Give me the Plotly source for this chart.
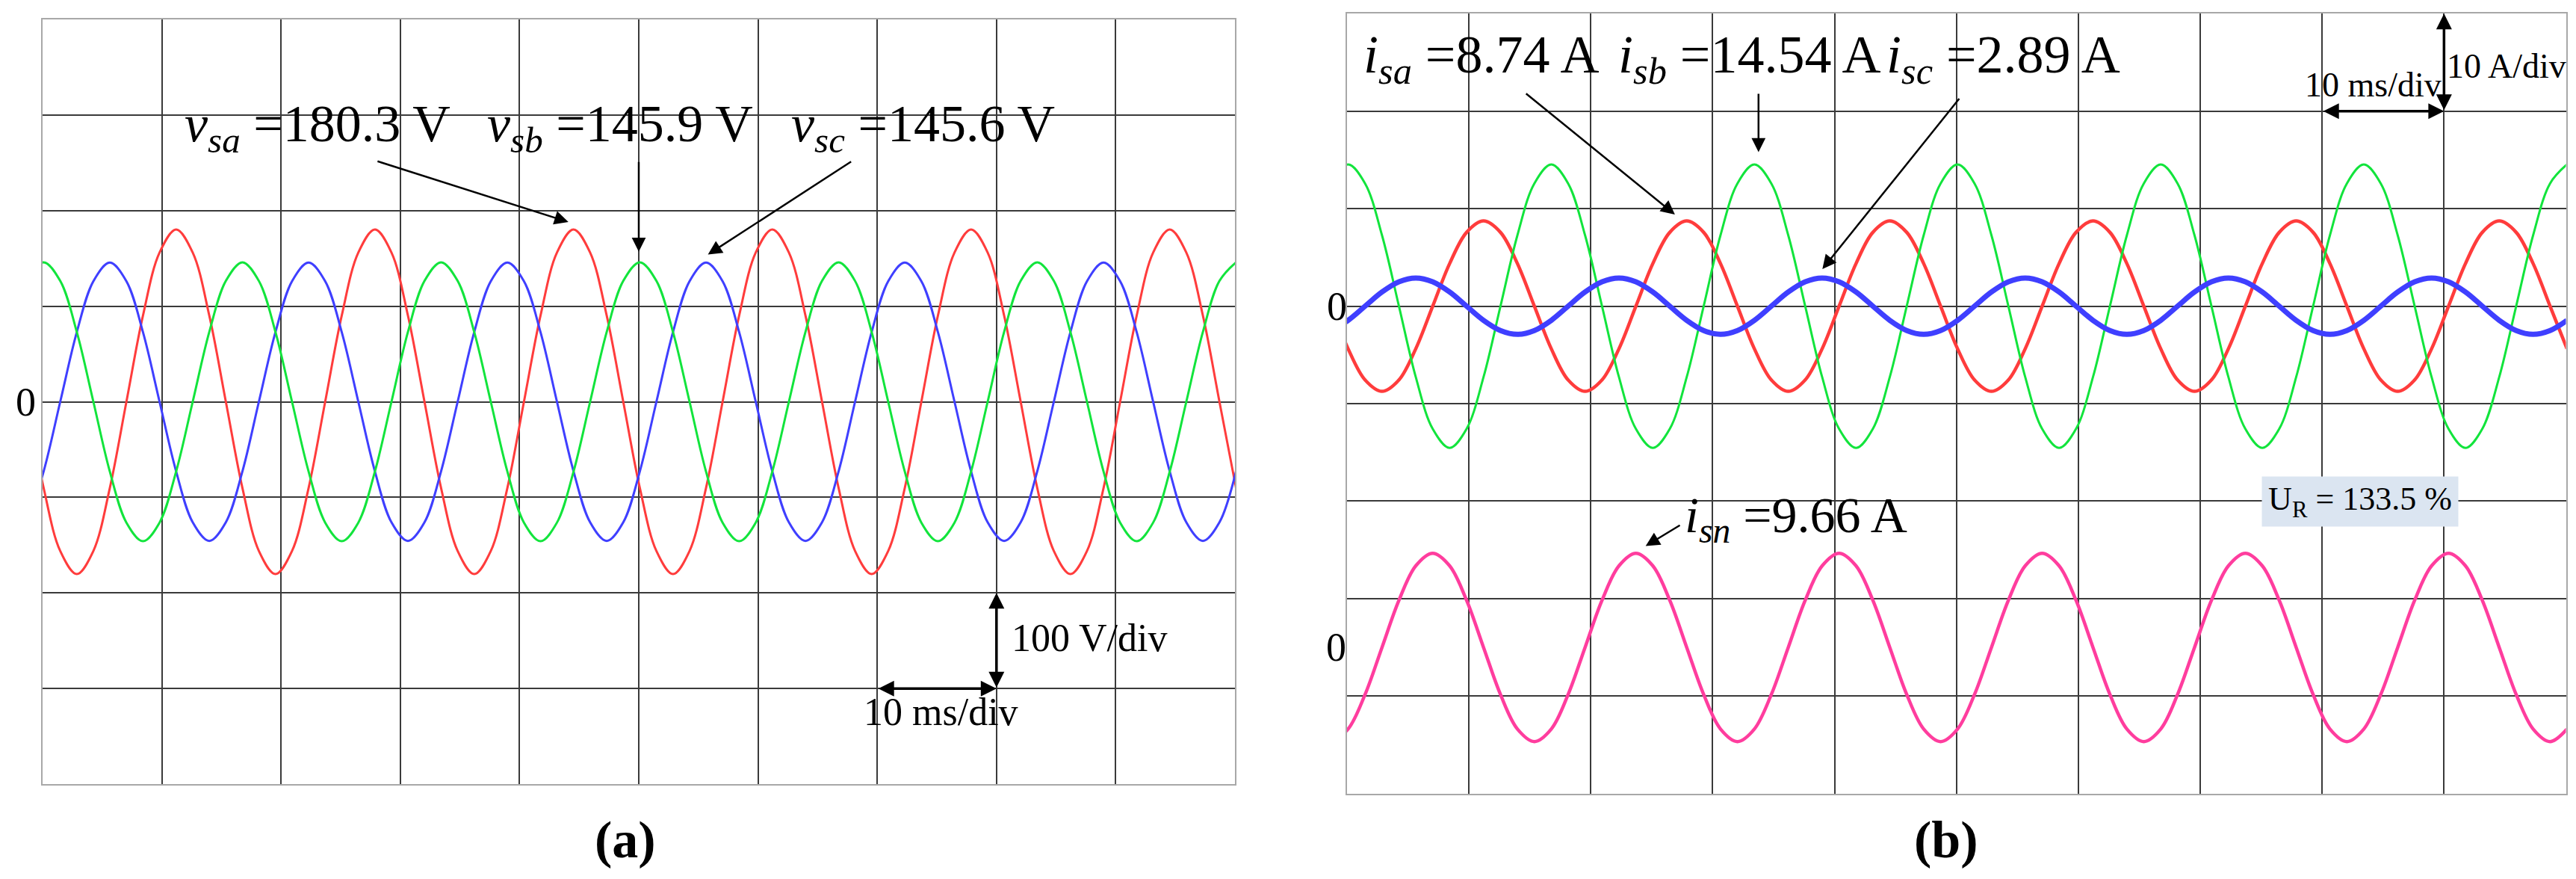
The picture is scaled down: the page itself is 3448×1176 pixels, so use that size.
import plotly.graph_objects as go

W, H = 3448, 1176

# sample times (ms), common to every trace
t_ms = [-1.30, 0.09, 1.48, 2.87, 4.26, 5.64, 7.03, 8.42, 9.81, 11.20, 12.59, 13.98,
        15.37, 16.76, 18.14, 19.53, 20.92, 22.31, 23.70, 25.09, 26.48, 27.87, 29.26, 30.64,
        32.03, 33.42, 34.81, 36.20, 37.59, 38.98, 40.37, 41.76, 43.14, 44.53, 45.92, 47.31,
        48.70, 50.09, 51.48, 52.87, 54.26, 55.64, 57.03, 58.42, 59.81, 61.20, 62.59, 63.98,
        65.37, 66.76, 68.14, 69.53, 70.92, 72.31, 73.70, 75.09, 76.48, 77.87, 79.26, 80.64,
        82.03, 83.42, 84.81, 86.20, 87.59, 88.98, 90.37, 91.76, 93.14, 94.53, 95.92, 97.31,
        98.70, 100.09]

# (a) source voltages (V)
v_sa = [0, -90.2, -156.1, -180.3, -156.1, -90.2, 0, 90.2, 156.1, 180.3, 156.1, 90.2,
        0, -90.2, -156.1, -180.3, -156.1, -90.2, 0, 90.2, 156.1, 180.3, 156.1, 90.2,
        0, -90.2, -156.1, -180.3, -156.1, -90.2, 0, 90.2, 156.1, 180.3, 156.1, 90.2,
        0, -90.2, -156.1, -180.3, -156.1, -90.2, 0, 90.2, 156.1, 180.3, 156.1, 90.2,
        0, -90.2, -156.1, -180.3, -156.1, -90.2, 0, 90.2, 156.1, 180.3, 156.1, 90.2,
        0, -90.2, -156.1, -180.3, -156.1, -90.2, 0, 90.2, 156.1, 180.3, 156.1, 90.2,
        0, -90.2]
v_sb = [126.4, 145.9, 126.4, 73.0, 0, -73.0, -126.4, -145.9, -126.4, -73.0, 0, 73.0,
        126.4, 145.9, 126.4, 73.0, 0, -73.0, -126.4, -145.9, -126.4, -73.0, 0, 73.0,
        126.4, 145.9, 126.4, 73.0, 0, -73.0, -126.4, -145.9, -126.4, -73.0, 0, 73.0,
        126.4, 145.9, 126.4, 73.0, 0, -73.0, -126.4, -145.9, -126.4, -73.0, 0, 73.0,
        126.4, 145.9, 126.4, 73.0, 0, -73.0, -126.4, -145.9, -126.4, -73.0, 0, 73.0,
        126.4, 145.9, 126.4, 73.0, 0, -73.0, -126.4, -145.9, -126.4, -73.0, 0, 73.0,
        126.4, 145.9]
v_sc = [-126.1, -72.8, 0, 72.8, 126.1, 145.6, 126.1, 72.8, 0, -72.8, -126.1, -145.6,
        -126.1, -72.8, 0, 72.8, 126.1, 145.6, 126.1, 72.8, 0, -72.8, -126.1, -145.6,
        -126.1, -72.8, 0, 72.8, 126.1, 145.6, 126.1, 72.8, 0, -72.8, -126.1, -145.6,
        -126.1, -72.8, 0, 72.8, 126.1, 145.6, 126.1, 72.8, 0, -72.8, -126.1, -145.6,
        -126.1, -72.8, 0, 72.8, 126.1, 145.6, 126.1, 72.8, 0, -72.8, -126.1, -145.6,
        -126.1, -72.8, 0, 72.8, 126.1, 145.6, 126.1, 72.8, 0, -72.8, -126.1, -145.6,
        -126.1, -72.8]

# (b) source currents (A)
i_sa = [0, -4.37, -7.57, -8.74, -7.57, -4.37, 0, 4.37, 7.57, 8.74, 7.57, 4.37,
        0, -4.37, -7.57, -8.74, -7.57, -4.37, 0, 4.37, 7.57, 8.74, 7.57, 4.37,
        0, -4.37, -7.57, -8.74, -7.57, -4.37, 0, 4.37, 7.57, 8.74, 7.57, 4.37,
        0, -4.37, -7.57, -8.74, -7.57, -4.37, 0, 4.37, 7.57, 8.74, 7.57, 4.37,
        0, -4.37, -7.57, -8.74, -7.57, -4.37, 0, 4.37, 7.57, 8.74, 7.57, 4.37,
        0, -4.37, -7.57, -8.74, -7.57, -4.37, 0, 4.37, 7.57, 8.74, 7.57, 4.37,
        0, -4.37]
i_sb = [12.59, 14.54, 12.59, 7.27, 0, -7.27, -12.59, -14.54, -12.59, -7.27, 0, 7.27,
        12.59, 14.54, 12.59, 7.27, 0, -7.27, -12.59, -14.54, -12.59, -7.27, 0, 7.27,
        12.59, 14.54, 12.59, 7.27, 0, -7.27, -12.59, -14.54, -12.59, -7.27, 0, 7.27,
        12.59, 14.54, 12.59, 7.27, 0, -7.27, -12.59, -14.54, -12.59, -7.27, 0, 7.27,
        12.59, 14.54, 12.59, 7.27, 0, -7.27, -12.59, -14.54, -12.59, -7.27, 0, 7.27,
        12.59, 14.54, 12.59, 7.27, 0, -7.27, -12.59, -14.54, -12.59, -7.27, 0, 7.27,
        12.59, 14.54]
i_sc = [-2.50, -1.45, 0, 1.45, 2.50, 2.89, 2.50, 1.45, 0, -1.45, -2.50, -2.89,
        -2.50, -1.45, 0, 1.45, 2.50, 2.89, 2.50, 1.45, 0, -1.45, -2.50, -2.89,
        -2.50, -1.45, 0, 1.45, 2.50, 2.89, 2.50, 1.45, 0, -1.45, -2.50, -2.89,
        -2.50, -1.45, 0, 1.45, 2.50, 2.89, 2.50, 1.45, 0, -1.45, -2.50, -2.89,
        -2.50, -1.45, 0, 1.45, 2.50, 2.89, 2.50, 1.45, 0, -1.45, -2.50, -2.89,
        -2.50, -1.45, 0, 1.45, 2.50, 2.89, 2.50, 1.45, 0, -1.45, -2.50, -2.89,
        -2.50, -1.45]
i_sn = [-9.66, -8.37, -4.83, 0, 4.83, 8.37, 9.66, 8.37, 4.83, 0, -4.83, -8.37,
        -9.66, -8.37, -4.83, 0, 4.83, 8.37, 9.66, 8.37, 4.83, 0, -4.83, -8.37,
        -9.66, -8.37, -4.83, 0, 4.83, 8.37, 9.66, 8.37, 4.83, 0, -4.83, -8.37,
        -9.66, -8.37, -4.83, 0, 4.83, 8.37, 9.66, 8.37, 4.83, 0, -4.83, -8.37,
        -9.66, -8.37, -4.83, 0, 4.83, 8.37, 9.66, 8.37, 4.83, 0, -4.83, -8.37,
        -9.66, -8.37, -4.83, 0, 4.83, 8.37, 9.66, 8.37, 4.83, 0, -4.83, -8.37,
        -9.66, -8.37]

RED, GREEN, BLUE, PINK = "#ff3c3c", "#12e43c", "#3f3fff", "#ff3d9e"
FONT = "Liberation Serif"


def px(x):
    return x / W


def py(y):
    return 1 - y / H


fig = go.Figure()

for vals, col in [(v_sa, RED), (v_sc, BLUE), (v_sb, GREEN)]:
    fig.add_trace(go.Scatter(x=t_ms, y=vals, mode="lines", xaxis="x", yaxis="y",
                             line=dict(color=col, width=3, shape="spline", smoothing=1.0),
                             hoverinfo="skip"))

for vals, col, w in [(i_sa, RED, 4.5), (i_sb, GREEN, 3), (i_sc, BLUE, 7)]:
    fig.add_trace(go.Scatter(x=t_ms, y=vals, mode="lines", xaxis="x2", yaxis="y2",
                             line=dict(color=col, width=w, shape="spline", smoothing=1.0),
                             hoverinfo="skip"))

fig.add_trace(go.Scatter(x=t_ms, y=i_sn, mode="lines", xaxis="x2", yaxis="y3",
                         line=dict(color=PINK, width=4.5, shape="spline", smoothing=1.0),
                         hoverinfo="skip"))

grid = dict(showgrid=True, gridcolor="#3a3a3a", gridwidth=2, zeroline=False,
            showticklabels=False, ticks="", showline=True, mirror=True,
            linecolor="#a8a8a8", linewidth=2, fixedrange=True)

fig.update_layout(
    width=W, height=H,
    margin=dict(l=0, r=0, t=0, b=0),
    paper_bgcolor="white", plot_bgcolor="white",
    showlegend=False,
    xaxis=dict(domain=[px(49), px(1645)], range=[0, 100], tick0=0, dtick=10,
               anchor="y", **grid),
    yaxis=dict(domain=[py(1041), py(18)], range=[-400, 400], tick0=0, dtick=100,
               anchor="x", **grid),
    xaxis2=dict(domain=[px(1795), px(3426.5)], range=[0, 100], tick0=0, dtick=10,
                anchor="y2", **grid),
    yaxis2=dict(domain=[py(1053.8), py(10.3)], range=[-50, 30], tick0=0, dtick=10,
                anchor="x2", **grid),
    yaxis3=dict(overlaying="y2", anchor="x2", range=[-15, 65], showgrid=False,
                zeroline=False, showticklabels=False, ticks="", showline=False,
                fixedrange=True),
)

ann = []


def label(text, x, y, size, xanchor="left", bold=False):
    ann.append(dict(text=f"<b>{text}</b>" if bold else text, x=px(x), y=py(y),
                    xref="paper", yref="paper", xanchor=xanchor, yanchor="middle",
                    showarrow=False, font=dict(family=FONT, size=size, color="black")))


def arrow(xr, yr, hx, hy, tx, ty, width=2.5, size=1.5, side="end"):
    ann.append(dict(text="", x=hx, y=hy, ax=tx, ay=ty, xref=xr, yref=yr,
                    axref=xr, ayref=yr, showarrow=True, arrowhead=2,
                    arrowsize=size, arrowwidth=width, arrowcolor="black",
                    arrowside=side, standoff=0, startstandoff=0))


# panel (a) labels
label("<i>v</i><sub><i>sa</i></sub> =180.3 V", 237, 163, 70)
label("<i>v</i><sub><i>sb</i></sub> =145.9 V", 642, 163, 70)
label("<i>v</i><sub><i>sc</i></sub> =145.6 V", 1049, 163, 70)
arrow("x", "y", 44.1, 188, 28.0, 252)
arrow("x", "y", 50.0, 157, 50.0, 252)
arrow("x", "y", 55.8, 154, 67.9, 252)
label("0", 26, 530, 54, xanchor="center")
label("100 V/div", 1344, 845, 52)
label("10 ms/div", 1146, 944, 52)
arrow("x", "y", 80, -200, 80, -300, width=3.5, size=1.2, side="end+start")
arrow("x", "y", 80, -300, 70, -300, width=3.5, size=1.2, side="end+start")
label("(a)", 829, 1115, 70, xanchor="center", bold=True)

# panel (b) labels
label("<i>i</i><sub><i>sa</i></sub> =8.74 A", 1815, 70, 72)
label("<i>i</i><sub><i>sb</i></sub> =14.54 A", 2156, 70, 72)
label("<i>i</i><sub><i>sc</i></sub> =2.89 A", 2515, 70, 72)
arrow("x2", "y2", 26.9, 9.4, 14.6, 21.9)
arrow("x2", "y2", 33.76, 15.8, 33.76, 21.9)
arrow("x2", "y2", 39.0, 3.8, 50.3, 21.4)
label("10 A/div", 3265, 81, 46)
label("10 ms/div", 3075, 105, 46)
arrow("x2", "y2", 90, 30, 90, 20, width=3.5, size=1.2, side="end+start")
arrow("x2", "y2", 90, 20, 80, 20, width=3.5, size=1.2, side="end+start")
label("0", 1781, 402, 54, xanchor="center")
label("0", 1780, 858, 54, xanchor="center")
label("<i>i</i><sub><i>sn</i></sub> =9.66 A", 2245, 685, 68)
arrow("x2", "y3", 24.5, 10.4, 27.4, 12.6, width=2.5, size=1.5)
ann.append(dict(text="U<sub>R</sub> = 133.5 %", x=px(3150.7), y=py(662.8),
                xref="paper", yref="paper", xanchor="center", yanchor="middle",
                showarrow=False, bgcolor="#dbe5f1", width=260, height=64,
                font=dict(family=FONT, size=44, color="black")))
label("(b)", 2597, 1115, 70, xanchor="center", bold=True)

fig.update_layout(annotations=ann)

fig.write_html("out.html")
